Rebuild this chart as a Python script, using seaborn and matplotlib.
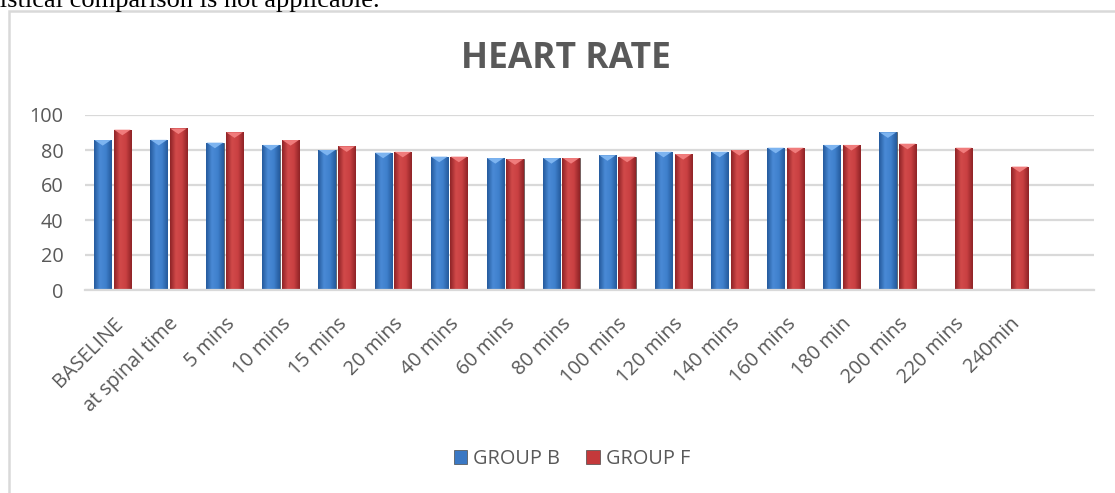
import numpy as np
import pandas as pd
import matplotlib
matplotlib.use("Agg")
import matplotlib.pyplot as plt
from matplotlib.patches import Rectangle, Polygon
from matplotlib.colors import LinearSegmentedColormap
import seaborn as sns

categories = ["BASELINE", "at spinal time", "5 mins", "10 mins", "15 mins", "20 mins",
              "40 mins", "60 mins", "80 mins", "100 mins", "120 mins", "140 mins",
              "160 mins", "180 min", "200 mins", "220 mins", "240min", ""]
group_b = [85.7, 85.8, 84.2, 82.9, 80.0, 78.5, 76.2, 75.4, 75.4, 77.0, 79.0, 79.0,
           81.3, 82.9, 90.1, np.nan, np.nan, np.nan]
group_f = [91.6, 92.3, 90.1, 85.7, 82.1, 79.0, 76.2, 74.7, 75.4, 76.2, 77.7, 80.0,
           81.3, 82.9, 83.6, 81.3, 70.5, np.nan]
series_names = ["GROUP B", "GROUP F"]
title = "HEART RATE"
yticks = [0, 20, 40, 60, 80, 100]

df = pd.DataFrame({
    "cat": categories * 2,
    "val": group_b + group_f,
    "grp": [series_names[0]] * len(categories) + [series_names[1]] * len(categories),
})

sns.set_style("white")
plt.rcParams["font.family"] = ["Open Sans", "DejaVu Sans"]

fig = plt.figure(figsize=(11.15, 4.93), dpi=100)
ax = fig.add_axes([84.5 / 1115, 1 - 290 / 493, (1094 - 84.5) / 1115, 175 / 493])

palette = {"GROUP B": "#3A78C4", "GROUP F": "#C4393B"}
sns.barplot(data=df, x="cat", y="val", hue="grp", order=categories,
            hue_order=series_names, palette=palette, errorbar=None,
            width=0.7, gap=0.12, edgecolor="#4a4a4a", linewidth=0.5,
            saturation=1, ax=ax, legend=True)

# bevel-like shading over each drawn bar
grad_cmaps = {
    "#3A78C4": (LinearSegmentedColormap.from_list("b", ["#245A9C", "#4A8AD6", "#3F80CC", "#245A9C"]), "#7DB4F0"),
    "#C4393B": (LinearSegmentedColormap.from_list("r", ["#8E2326", "#D24A4A", "#C94042", "#8E2326"]), "#F07C7C"),
}
grad = np.linspace(0, 1, 64).reshape(1, -1)
for p in list(ax.patches):
    h = p.get_height()
    if not np.isfinite(h) or h <= 0:
        continue
    fc = matplotlib.colors.to_hex(p.get_facecolor()).upper()
    key = "#3A78C4" if fc == "#3A78C4" else "#C4393B"
    cmap, tri_col = grad_cmaps[key]
    x0, w, y0 = p.get_x(), p.get_width(), p.get_y()
    im = ax.imshow(grad, cmap=cmap, aspect="auto", extent=(x0, x0 + w, y0, y0 + h),
                   zorder=p.get_zorder() + 0.1, interpolation="bicubic")
    im.set_clip_path(p)
    tri = Polygon([(x0 + 0.02 * w, y0 + h), (x0 + 0.98 * w, y0 + h),
                   (x0 + 0.5 * w, y0 + h - 3.2)], closed=True,
                  facecolor=tri_col, edgecolor="none", zorder=p.get_zorder() + 0.2)
    ax.add_patch(tri)

ax.set_ylim(0, 100)
ax.set_yticks(yticks)
ax.set_xlim(-0.5, len(categories) - 0.5)
ax.yaxis.grid(True, color="#D9D9D9", linewidth=1.6)
ax.set_axisbelow(True)
for s in ["top", "right", "left"]:
    ax.spines[s].set_visible(False)
ax.spines["bottom"].set_color("#D9D9D9")
ax.spines["bottom"].set_linewidth(1.6)
ax.set_xlabel("")
ax.set_ylabel("")
ax.tick_params(axis="both", length=0, colors="#595959", labelsize=14.3)
ax.tick_params(axis="y", pad=15)
ax.tick_params(axis="x", pad=17)
for lab in ax.get_xticklabels():
    lab.set_rotation(45)
    lab.set_ha("right")
    lab.set_rotation_mode("anchor")

handles, labels = ax.get_legend_handles_labels()
ax.legend(handles, labels, loc="center", bbox_to_anchor=(572 / 1115, 1 - 459 / 493),
          bbox_transform=fig.transFigure, ncol=2, frameon=False,
          handlelength=0.7, handleheight=0.7, handletextpad=0.3,
          columnspacing=1.3, fontsize=14.3, labelcolor="#595959")

fig.text(566 / 1115, 1 - 59 / 493, title, ha="center", va="center", fontsize=25.5,
         fontweight="bold", color="#595959")

fig.text(380 / 1115, 1 - 7 / 493, "statistical comparison is not applicable.",
         ha="right", va="baseline", fontsize=19, family="Liberation Serif", color="black")

fig.add_artist(Rectangle((9 / 1115, -0.5), 2.0, 1 - 11 / 493 + 0.5,
                         transform=fig.transFigure, fill=False,
                         edgecolor="#D9D9D9", linewidth=1.8))

fig.savefig("out.png", dpi=100, facecolor="white")
